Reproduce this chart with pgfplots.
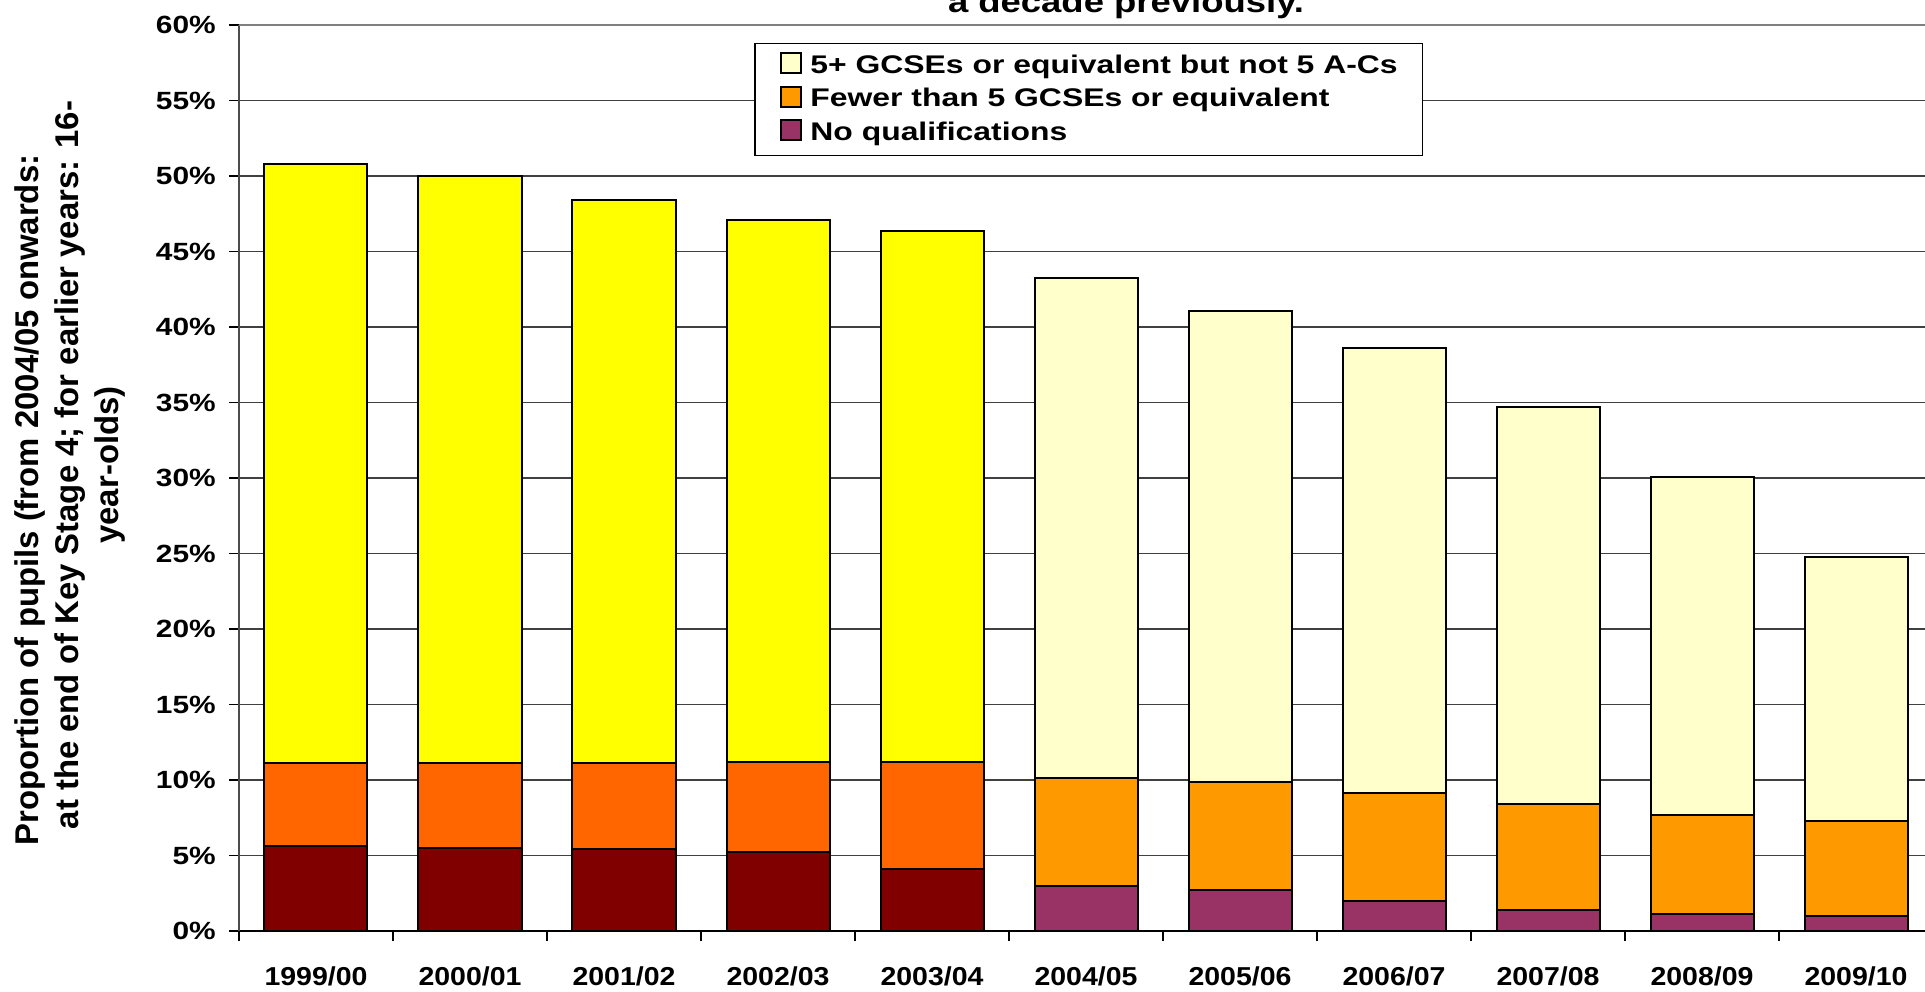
\documentclass[border=0pt]{standalone}
\usepackage{fontspec}
\setmainfont{Liberation Sans}
\newfontfamily\fTick{Liberation Sans}[FakeStretch=1.2]
\newfontfamily\fX{Liberation Sans}[FakeStretch=1.1]
\newfontfamily\fLeg{Liberation Sans}[FakeStretch=1.25]
\usepackage{pgfplots}
\pgfplotsset{compat=1.18}
\definecolor{cDarkRed}{HTML}{800000}
\definecolor{cOrangeRed}{HTML}{FF6600}
\definecolor{cYellow}{HTML}{FFFF00}
\definecolor{cPurple}{HTML}{993366}
\definecolor{cOrange}{HTML}{FF9900}
\definecolor{cLightYellow}{HTML}{FFFFCC}
\pgfplotsset{
  base/.style={width=1694bp, height=906bp, scale only axis,
    xmin=-0.5, xmax=10.5, ymin=0, ymax=60,
    at={(0,0)}, anchor=south west,
    ybar stacked, bar width=103bp},
  seg/.style={fill=#1, draw=black, line width=2bp},
}
\begin{document}
\begin{tikzpicture}
% ---- earlier years (1999/00 - 2003/04): 16-year-olds
\begin{axis}[base,
  axis x line*=bottom, axis y line*=left,
  x axis line style={-, black, line width=1.5bp},
  y axis line style={-, black!70, line width=2bp},
  xtick={-0.5,0.5,...,10.5}, xticklabels={,,,,,,,,,,,},
  extra x ticks={0,1,...,10},
  extra x tick labels={1999/00,2000/01,2001/02,2002/03,2003/04,2004/05,2005/06,2006/07,2007/08,2008/09,2009/10},
  extra x tick style={tick style={draw=none},
    xticklabel style={font=\fX\bfseries\fontsize{26}{30}\selectfont, inner sep=0pt, anchor=base, yshift=-44bp}},
  ytick={0,5,...,60},
  yticklabels={0\%,5\%,10\%,15\%,20\%,25\%,30\%,35\%,40\%,45\%,50\%,55\%,60\%},
  tick style={black, line width=1.2bp},
  tick align=outside, major tick length=10bp,
  ymajorgrids, grid style={black!75, line width=1.2bp},
  yticklabel style={font=\fTick\bfseries\fontsize{25}{30}\selectfont, inner sep=0pt, anchor=east, xshift=-13bp},
]
\addplot[seg=cDarkRed] coordinates {(0,5.6) (1,5.5) (2,5.4) (3,5.2) (4,4.1)};
\addplot[seg=cOrangeRed] coordinates {(0,5.55) (1,5.65) (2,5.75) (3,6.0) (4,7.1)};
\addplot[seg=cYellow] coordinates {(0,39.65) (1,38.85) (2,37.25) (3,35.9) (4,35.15)};
\draw[black!50, line width=2.2bp] (rel axis cs:0,1) -- (rel axis cs:1,1);
\end{axis}
% ---- 2004/05 onwards: end of Key Stage 4
\begin{axis}[base, hide axis, reverse legend,
  legend style={at={(0.3042,0.9805)}, anchor=north west, draw=black, line width=1.5bp,
    inner xsep=25bp, inner ysep=9bp, row sep=6.5bp, column sep=8.4bp,
    font=\fLeg\bfseries\fontsize{25.6}{30}\selectfont,
    nodes={inner sep=0pt, text height=19bp, text depth=6bp, anchor=base west}},
  legend cell align=left,
  legend image code/.code={\draw[#1, line width=2bp] (0bp,0bp) rectangle (20bp,20bp);},
]
\addplot[seg=cPurple] coordinates {(5,3.0) (6,2.7) (7,2.0) (8,1.4) (9,1.1) (10,1.0)};
\addlegendentry{No qualifications}
\addplot[seg=cOrange] coordinates {(5,7.1) (6,7.2) (7,7.15) (8,7.0) (9,6.6) (10,6.3)};
\addlegendentry{Fewer than 5 GCSEs or equivalent}
\addplot[seg=cLightYellow] coordinates {(5,33.15) (6,31.15) (7,29.45) (8,26.3) (9,22.35) (10,17.45)};
\addlegendentry{5+ GCSEs or equivalent but not 5 A-Cs}
\end{axis}
\node[rotate=90, align=center, font=\bfseries\fontsize{33}{40}\selectfont] at (-169bp,466bp)
  {Proportion of pupils (from 2004/05 onwards:\hspace*{70bp}\\at the end of Key Stage 4; for earlier years: 16-\\year-olds)};
\node[anchor=base, font=\fTick\bfseries\fontsize{30.5}{36}\selectfont] at (887bp,918.5bp) {a decade previously.};
\pgfresetboundingbox
\path[use as bounding box] (-239bp,-61bp) rectangle (1686bp,931bp);
\end{tikzpicture}
\end{document}
